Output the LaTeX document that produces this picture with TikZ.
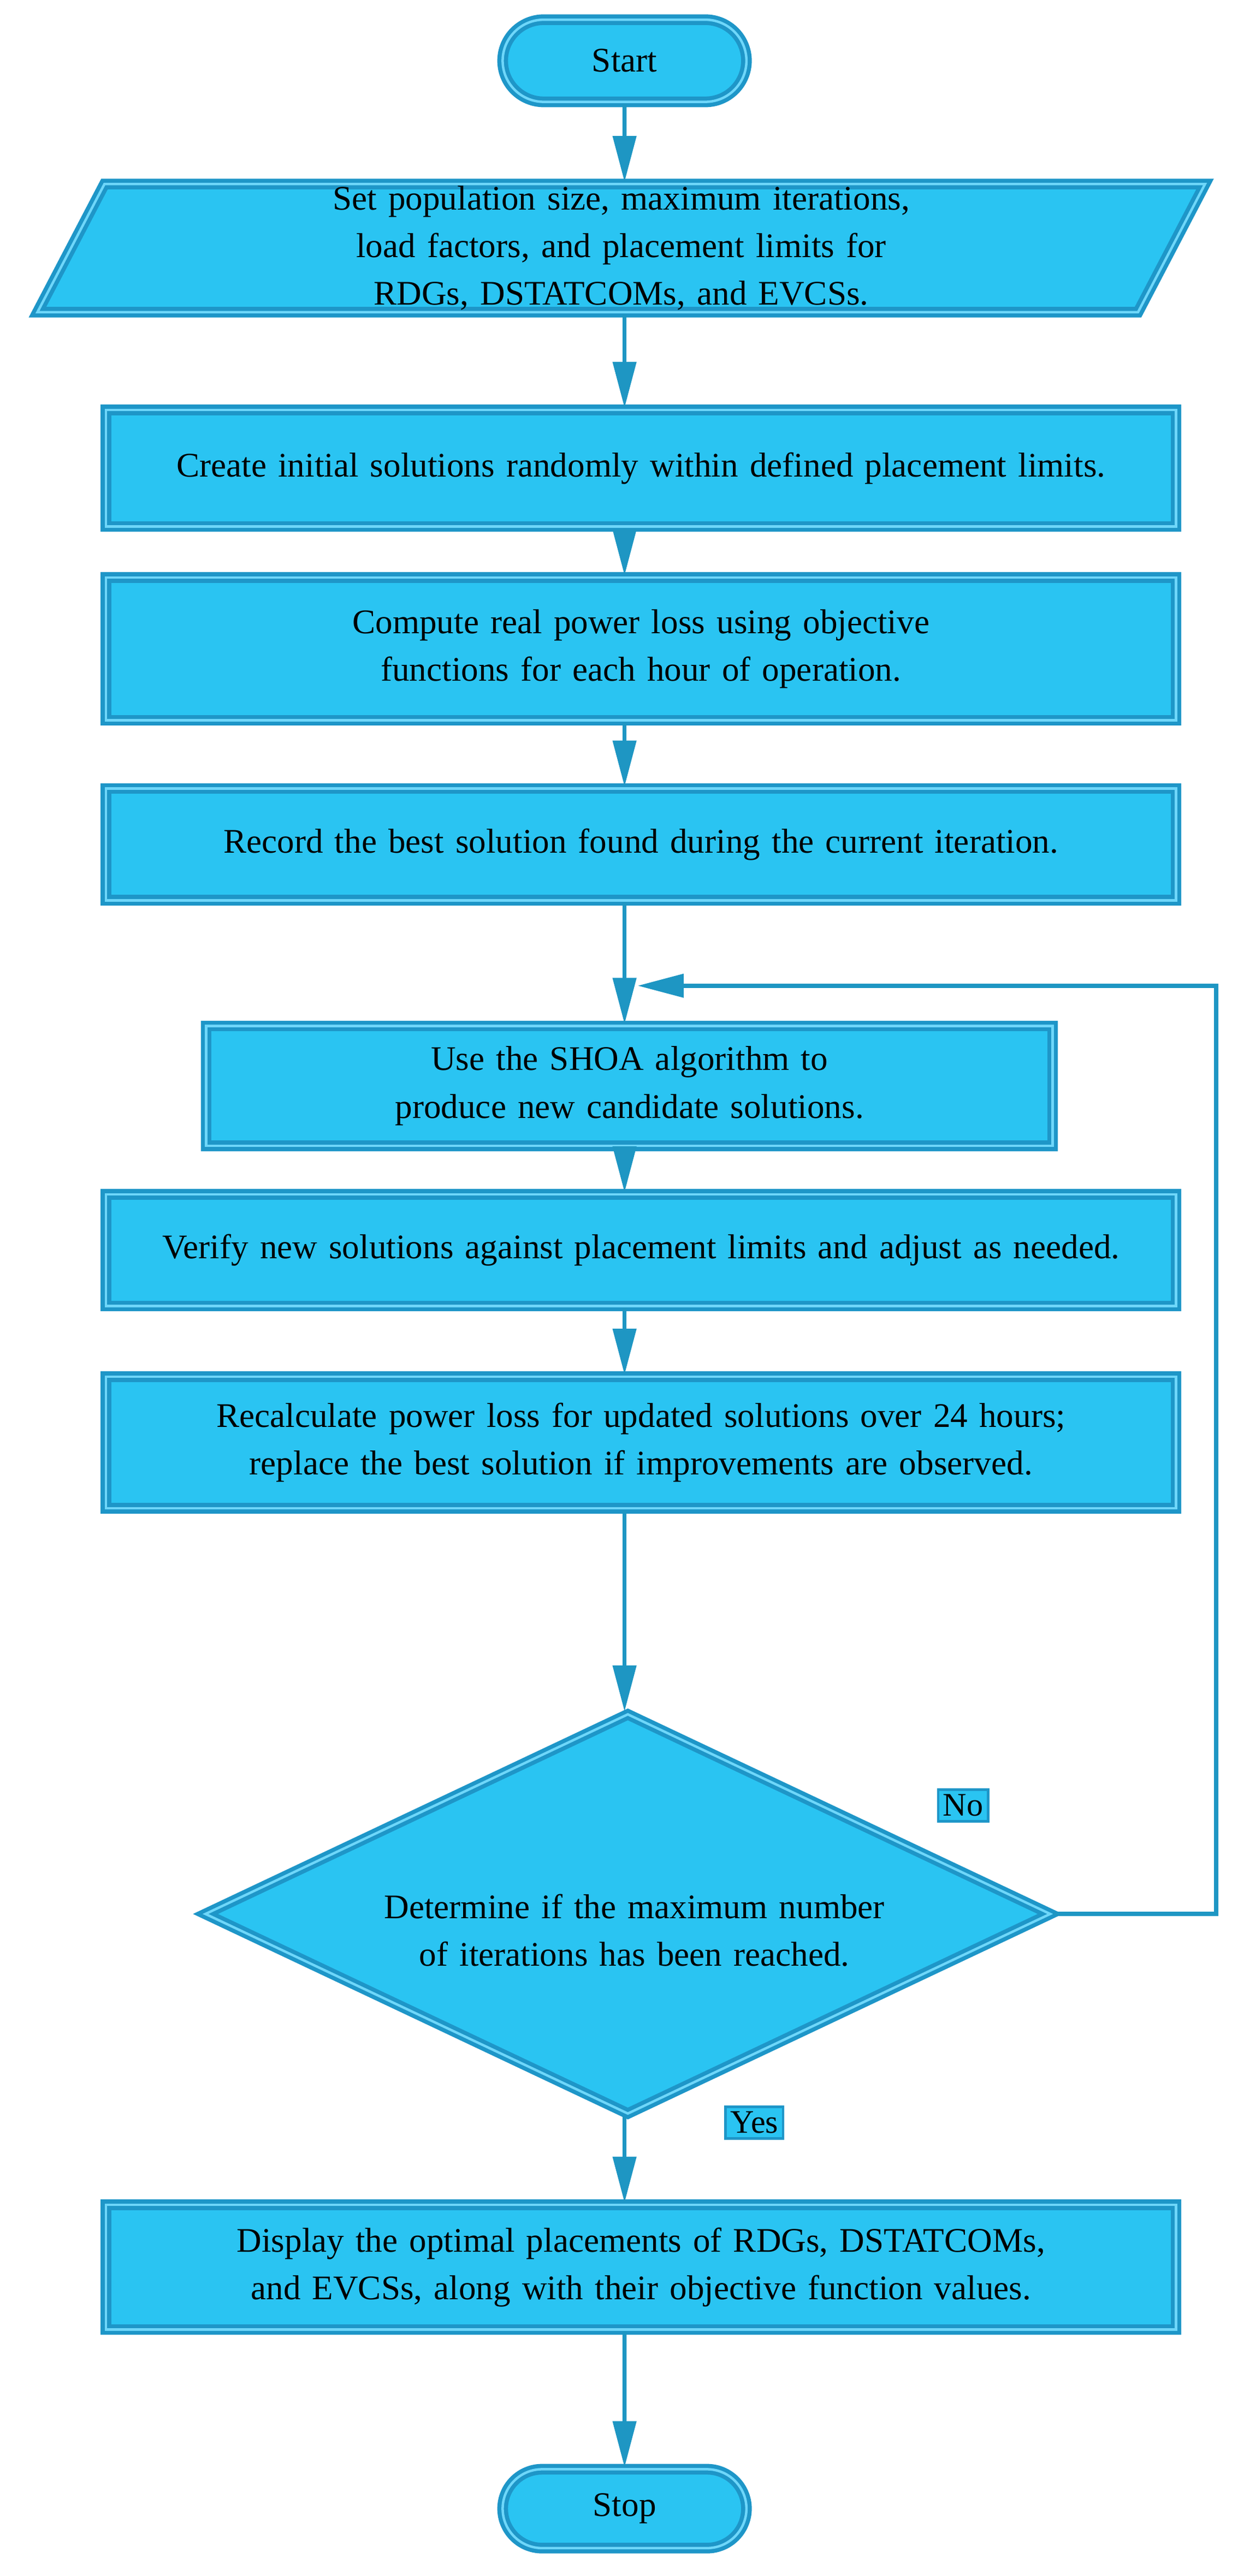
\documentclass[tikz,border=0pt]{standalone}
\usepackage{fontspec}
\setmainfont{Liberation Serif}
\usetikzlibrary{shapes.geometric,shapes.misc,arrows.meta}
\definecolor{fillc}{RGB}{42,196,242}
\definecolor{edgec}{RGB}{30,150,200}
\definecolor{lightc}{RGB}{110,215,250}
\definecolor{arrc}{RGB}{30,150,195}
\begin{document}
\hyphenpenalty=10000 \exhyphenpenalty=10000
\begin{tikzpicture}[x=1pt,y=-1pt,
  every node/.style={font=\fontsize{21}{29}\selectfont, align=center, text=black},
  box/.style={rectangle, fill=fillc, draw=edgec, line width=2.5pt, double=lightc, double distance=1.5pt, inner sep=0pt},
  term/.style={rounded rectangle, fill=fillc, draw=edgec, line width=2.5pt, double=lightc, double distance=1.5pt, minimum width=155, minimum height=50},
  arr/.style={draw=arrc, line width=2.5pt, -{Triangle[width=14,length=28]}},
  lbl/.style={rectangle, fill=fillc, draw=edgec, line width=1.5pt, inner sep=3pt, font=\fontsize{20}{24}\selectfont}]
\useasboundingbox (0,0) rectangle (753,1568);
\node[term] (start) at (380,37) {Start};
\node[trapezium, trapezium stretches=true, trapezium left angle=70, trapezium right angle=110, fill=fillc, draw=edgec, line width=2.5pt, double=lightc, double distance=1.5pt, minimum width=715, minimum height=78, inner ysep=1pt, text width=430] (set) at (378,151) {Set population size, maximum iterations, load factors, and placement limits for RDGs, DSTATCOMs, and EVCSs.};
\node[box, minimum width=651, minimum height=71, text width=645] (init) at (390,285) {Create initial solutions randomly within defined placement limits.};
\node[box, minimum width=651, minimum height=87, text width=625] (comp) at (390,395) {Compute real power loss using objective functions for each hour of operation.};
\node[box, minimum width=651, minimum height=68, text width=630] (rec) at (390,514) {Record the best solution found during the current iteration.};
\coordinate (join) at (388,600);
\node[box, minimum width=515, minimum height=73, text width=440] (shoa) at (383,661) {Use the SHOA algorithm to produce new candidate solutions.};
\node[box, minimum width=651, minimum height=68, text width=600] (ver) at (390,761) {Verify new solutions against placement limits and adjust as needed.};
\node[box, minimum width=651, minimum height=80, text width=640] (recalc) at (390,878) {Recalculate power loss for updated solutions over 24 hours; replace the best solution if improvements are observed.};
\node[diamond, fill=fillc, draw=edgec, line width=2.5pt, double=lightc, double distance=1.5pt, minimum width=515, minimum height=244, inner sep=0pt, aspect=2.1] (dec) at (382,1165) {};
\node at (386,1175) [text width=460] {Determine if the maximum number of iterations has been reached.};
\node[box, minimum width=651, minimum height=76, text width=645] (disp) at (390,1380) {Display the optimal placements of RDGs, DSTATCOMs, and EVCSs, along with their objective function values.};
\node[term, minimum height=48] (stop) at (380,1527) {Stop};
\node[lbl] (no) at (586,1099) {No};
\node[lbl] (yes) at (459,1292) {Yes};
\coordinate (c1) at (740,1165);
\coordinate (c2) at (740,600);
\draw[arr] (start) -- (start.south |- set.north);
\draw[arr] (start.south |- set.south) -- (start.south |- init.north);
\draw[arr] (start.south |- init.south) -- (start.south |- comp.north);
\draw[arr] (start.south |- comp.south) -- (start.south |- rec.north);
\draw[arr] (start.south |- rec.south) -- (start.south |- shoa.north);
\draw[arr] (start.south |- shoa.south) -- (start.south |- ver.north);
\draw[arr] (start.south |- ver.south) -- (start.south |- recalc.north);
\draw[arr] (start.south |- recalc.south) -- (start.south |- dec.north);
\draw[arr] (start.south |- dec.south) -- (start.south |- disp.north);
\draw[arr] (start.south |- disp.south) -- (stop);
\draw[arr] (dec.east) -- (c1) -- (c2) -- (join);
\end{tikzpicture}
\end{document}
